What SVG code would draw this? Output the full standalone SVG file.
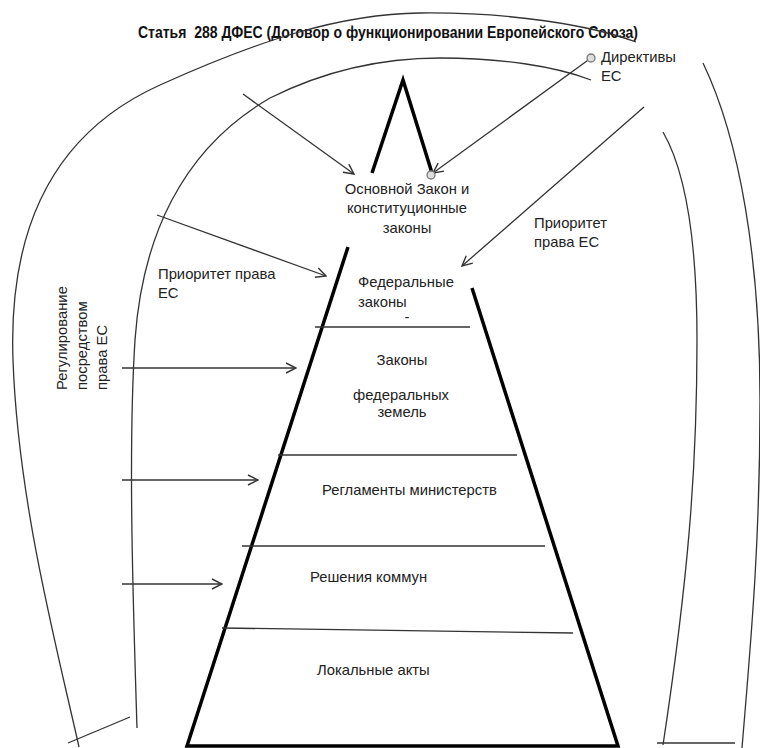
<svg xmlns="http://www.w3.org/2000/svg" width="760" height="748" viewBox="0 0 760 748">
<defs>
<style>
text{font-family:"Liberation Sans",Arial,sans-serif;font-size:14.8px;fill:#222}
.title{font-weight:bold;font-size:16px;fill:#111}
.thin{fill:none;stroke:#333;stroke-width:1.3}
.thick{fill:none;stroke:#000;stroke-width:3.5;stroke-linecap:butt}
.arr{fill:none;stroke:#333;stroke-width:1.3;marker-end:url(#ah)}
.dot{fill:#ddd;stroke:#777;stroke-width:1.3}
</style>
<marker id="ah" viewBox="0 0 12 12" refX="11" refY="6" markerWidth="12" markerHeight="12" markerUnits="userSpaceOnUse" orient="auto">
<path d="M1,1 L11,6 L1,11" fill="none" stroke="#333" stroke-width="1.4"/>
</marker>
</defs>
<rect width="760" height="748" fill="#fff"/>

<g id="title">
<text class="title" x="138" y="38" textLength="500" lengthAdjust="spacingAndGlyphs" xml:space="preserve">Статья  288 ДФЕС (Договор о функционировании Европейского Союза)</text>
</g>

<g id="pyramid">
<path class="thick" d="M372,173 L403,80 L432,173"/>
<path class="thick" d="M348,247 L187,746 L618,746 L472,288"/>
<path class="thin" d="M315,327 L470,327"/>
<path class="thin" d="M278,455 L517,455"/>
<path class="thin" d="M242,546 L545,546"/>
<path class="thin" d="M222,628 L573,633"/>
</g>

<g id="level-basic-law">
<text x="407" y="194" text-anchor="middle">Основной Закон и</text>
<text x="407" y="213" text-anchor="middle">конституционные</text>
<text x="407" y="233" text-anchor="middle">законы</text>
</g>
<g id="level-federal-laws">
<text x="358" y="287">Федеральные</text>
<text x="358" y="307">законы</text>
<text x="407" y="322" text-anchor="middle">-</text>
</g>
<g id="level-state-laws">
<text x="402" y="365" text-anchor="middle">Законы</text>
<text x="401" y="400" text-anchor="middle">федеральных</text>
<text x="402" y="417" text-anchor="middle">земель</text>
</g>
<g id="level-regulations">
<text x="322" y="495">Регламенты министерств</text>
</g>
<g id="level-communes">
<text x="310" y="582">Решения коммун</text>
</g>
<g id="level-local">
<text x="317" y="675">Локальные акты</text>
</g>

<g id="label-directives">
<text x="601" y="62">Директивы</text>
<text x="601" y="81">ЕС</text>
</g>
<g id="label-priority-left">
<text x="158" y="279">Приоритет права</text>
<text x="158" y="298">ЕС</text>
</g>
<g id="label-priority-right">
<text x="534" y="228">Приоритет</text>
<text x="534" y="247">права ЕС</text>
</g>
<g id="label-regulation">
<text transform="translate(67,390) rotate(-90)">Регулирование</text>
<text transform="translate(87,390) rotate(-90)">посредством</text>
<text transform="translate(107,390) rotate(-90)">права ЕС</text>
</g>

<g id="connectors">
<path class="thin" d="M79,747 C55,640 18,500 13,360 C8,220 60,130 160,85 C260,40 340,14 420,13 C510,12 590,25 636,42"/>
<path class="thin" d="M137,728 C133,600 128,450 135,340 C142,240 180,150 270,98 C330,68 390,58 440,58 C500,58 555,66 591,80"/>
<path class="thin" d="M703,63 C740,140 760,260 760,400 C760,550 750,650 742,748"/>
<path class="thin" d="M663,132 C685,170 697,240 697,340 C697,470 688,580 663,745"/>
<path class="thin" d="M657,743 L735,743"/>
<path class="thin" d="M68,743 L130,717"/>
<path class="arr" d="M243,94 L354,174"/>
<path class="arr" d="M591,58 L433,173"/>
<circle class="dot" cx="591" cy="58" r="4"/>
<circle class="dot" cx="431" cy="175" r="4"/>
<path class="arr" d="M644,107 L462,266"/>
<path class="arr" d="M157,215 L326,276"/>
<path class="arr" d="M122,368 L296,368"/>
<path class="arr" d="M122,480 L258,480"/>
<path class="arr" d="M122,584 L222,584"/>
</g>
</svg>
